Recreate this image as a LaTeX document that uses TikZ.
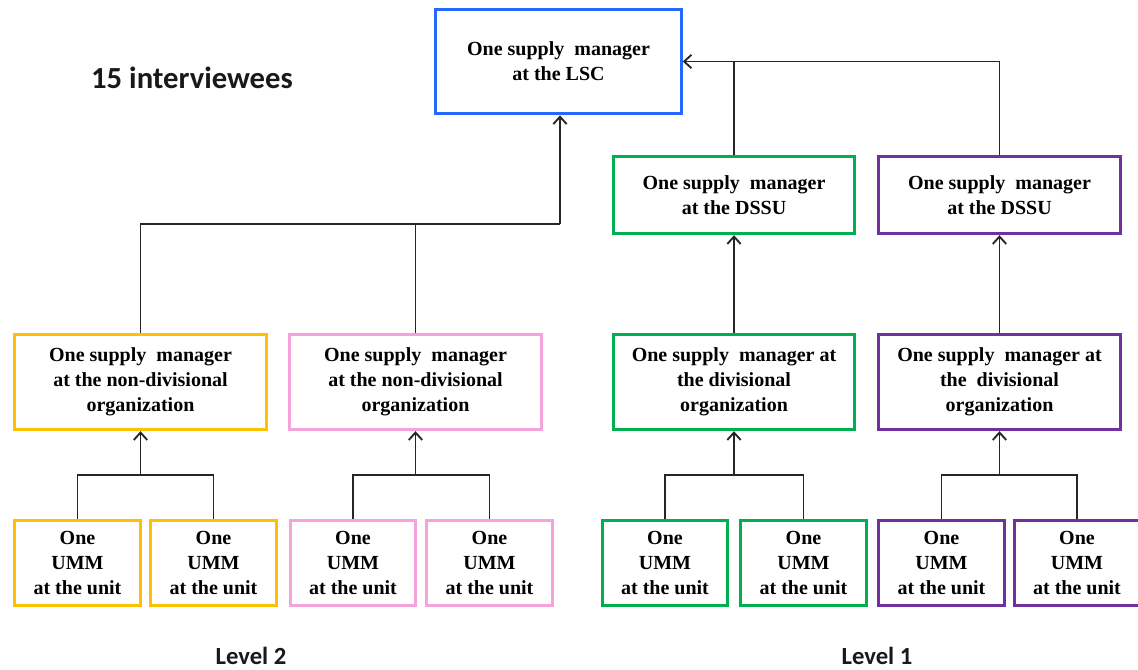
\documentclass[tikz,border=0pt]{standalone}
\usepackage{fontspec}
\setmainfont{Liberation Serif}
\newfontfamily\calfont{Carlito}
\usetikzlibrary{arrows.meta}
\definecolor{cblue}{HTML}{2668FF}
\definecolor{cyellow}{HTML}{FFC000}
\definecolor{cpink}{HTML}{F5A3DC}
\definecolor{cgreen}{HTML}{00B050}
\definecolor{cpurple}{HTML}{7030A0}
\tikzset{
  box/.style={draw=#1, line width=2.3pt, fill=white, inner sep=0pt, align=center,
    font=\bfseries\fontsize{15}{18.75}\selectfont, text=black},
  midbox/.style={box=#1, minimum width=189pt, minimum height=71.5pt},
  dbox/.style={box=#1, minimum width=181pt, minimum height=58pt},
  unitbox/.style={box=#1, minimum width=94pt, minimum height=64pt},
  conn/.style={line width=1.4pt, draw=black!85},
  arr/.style={conn, -{Straight Barb[length=5.5pt,width=10pt,line width=1.4pt]}},
  title/.style={font=\calfont\bfseries\fontsize{23}{27}\selectfont, text=black!90},
  lvl/.style={inner sep=0pt, font=\calfont\bfseries\fontsize{18.5}{22}\selectfont, text=black!90}
}
\begin{document}
\begin{tikzpicture}[x=0.75pt,y=-0.75pt]
\useasboundingbox (0,0) rectangle (1138,670);
% top
\node[box=cblue, minimum width=184pt, minimum height=78.5pt] (lsc) at (558.5,61.5) {One supply\ \ manager\\at the LSC};
\node[title] (title) at (192,78) {15 interviewees};
% DSSU
\node[dbox=cgreen] (gdssu) at (734,195) {One supply\ \ manager\\at the DSSU};
\node[dbox=cpurple] (pdssu) at (999.5,195) {One supply\ \ manager\\at the DSSU};
% middle
\node[midbox=cyellow] (ymid) at (140.5,382) {One supply\ \ manager\\at the non-divisional\\organization};
\node[midbox=cpink] (pmid) at (415.5,382) {One supply\ \ manager\\at the non-divisional\\organization};
\node[midbox=cgreen, minimum width=181pt] (gmid) at (734,382) {One supply\ \ manager at\\the divisional\\organization};
\node[midbox=cpurple, minimum width=181pt] (umid) at (999.5,382) {One supply\ \ manager at\\the\ \ divisional\\organization};
% units
\node[unitbox=cyellow] (y1) at (77.5,563) {One\\UMM\\at the unit};
\node[unitbox=cyellow] (y2) at (213.5,563) {One\\UMM\\at the unit};
\node[unitbox=cpink] (p1) at (353,563) {One\\UMM\\at the unit};
\node[unitbox=cpink] (p2) at (489.5,563) {One\\UMM\\at the unit};
\node[unitbox=cgreen] (g1) at (665,563) {One\\UMM\\at the unit};
\node[unitbox=cgreen] (g2) at (803.5,563) {One\\UMM\\at the unit};
\node[unitbox=cpurple] (u1) at (941.5,563) {One\\UMM\\at the unit};
\node[unitbox=cpurple] (u2) at (1077,563) {One\\UMM\\at the unit};
% levels
\node[lvl] (lvl2) at (251,656) {Level 2};
\node[lvl] (lvl1) at (877,656) {Level 1};
% connectors level 2 to LSC
\coordinate (jl) at (560,224);
\draw[conn] (ymid.north) |- (jl);
\draw[conn] (pmid.north) -- (pmid.north |- jl);
\draw[arr] (jl) -- (lsc.south -| jl);
% connectors level 1 to LSC
\draw[arr] (pdssu.north) |- (lsc.east);
\draw[conn] (gdssu.north) -- (gdssu.north |- lsc.east);
\draw[arr] (gmid.north) -- (gdssu.south);
\draw[arr] (umid.north) -- (pdssu.south);
% units to middle
\coordinate (jy) at (ymid.south |- 0,475);
\coordinate (jp) at (pmid.south |- 0,475);
\coordinate (jg) at (gmid.south |- 0,475);
\coordinate (ju) at (umid.south |- 0,475);
\draw[conn] (y1.north) |- (jy) -| (y2.north);
\draw[arr] (jy) -- (ymid.south);
\draw[conn] (p1.north) |- (jp) -| (p2.north);
\draw[arr] (jp) -- (pmid.south);
\draw[conn] (g1.north) |- (jg) -| (g2.north);
\draw[arr] (jg) -- (gmid.south);
\draw[conn] (u1.north) |- (ju) -| (u2.north);
\draw[arr] (ju) -- (umid.south);
\end{tikzpicture}
\end{document}
